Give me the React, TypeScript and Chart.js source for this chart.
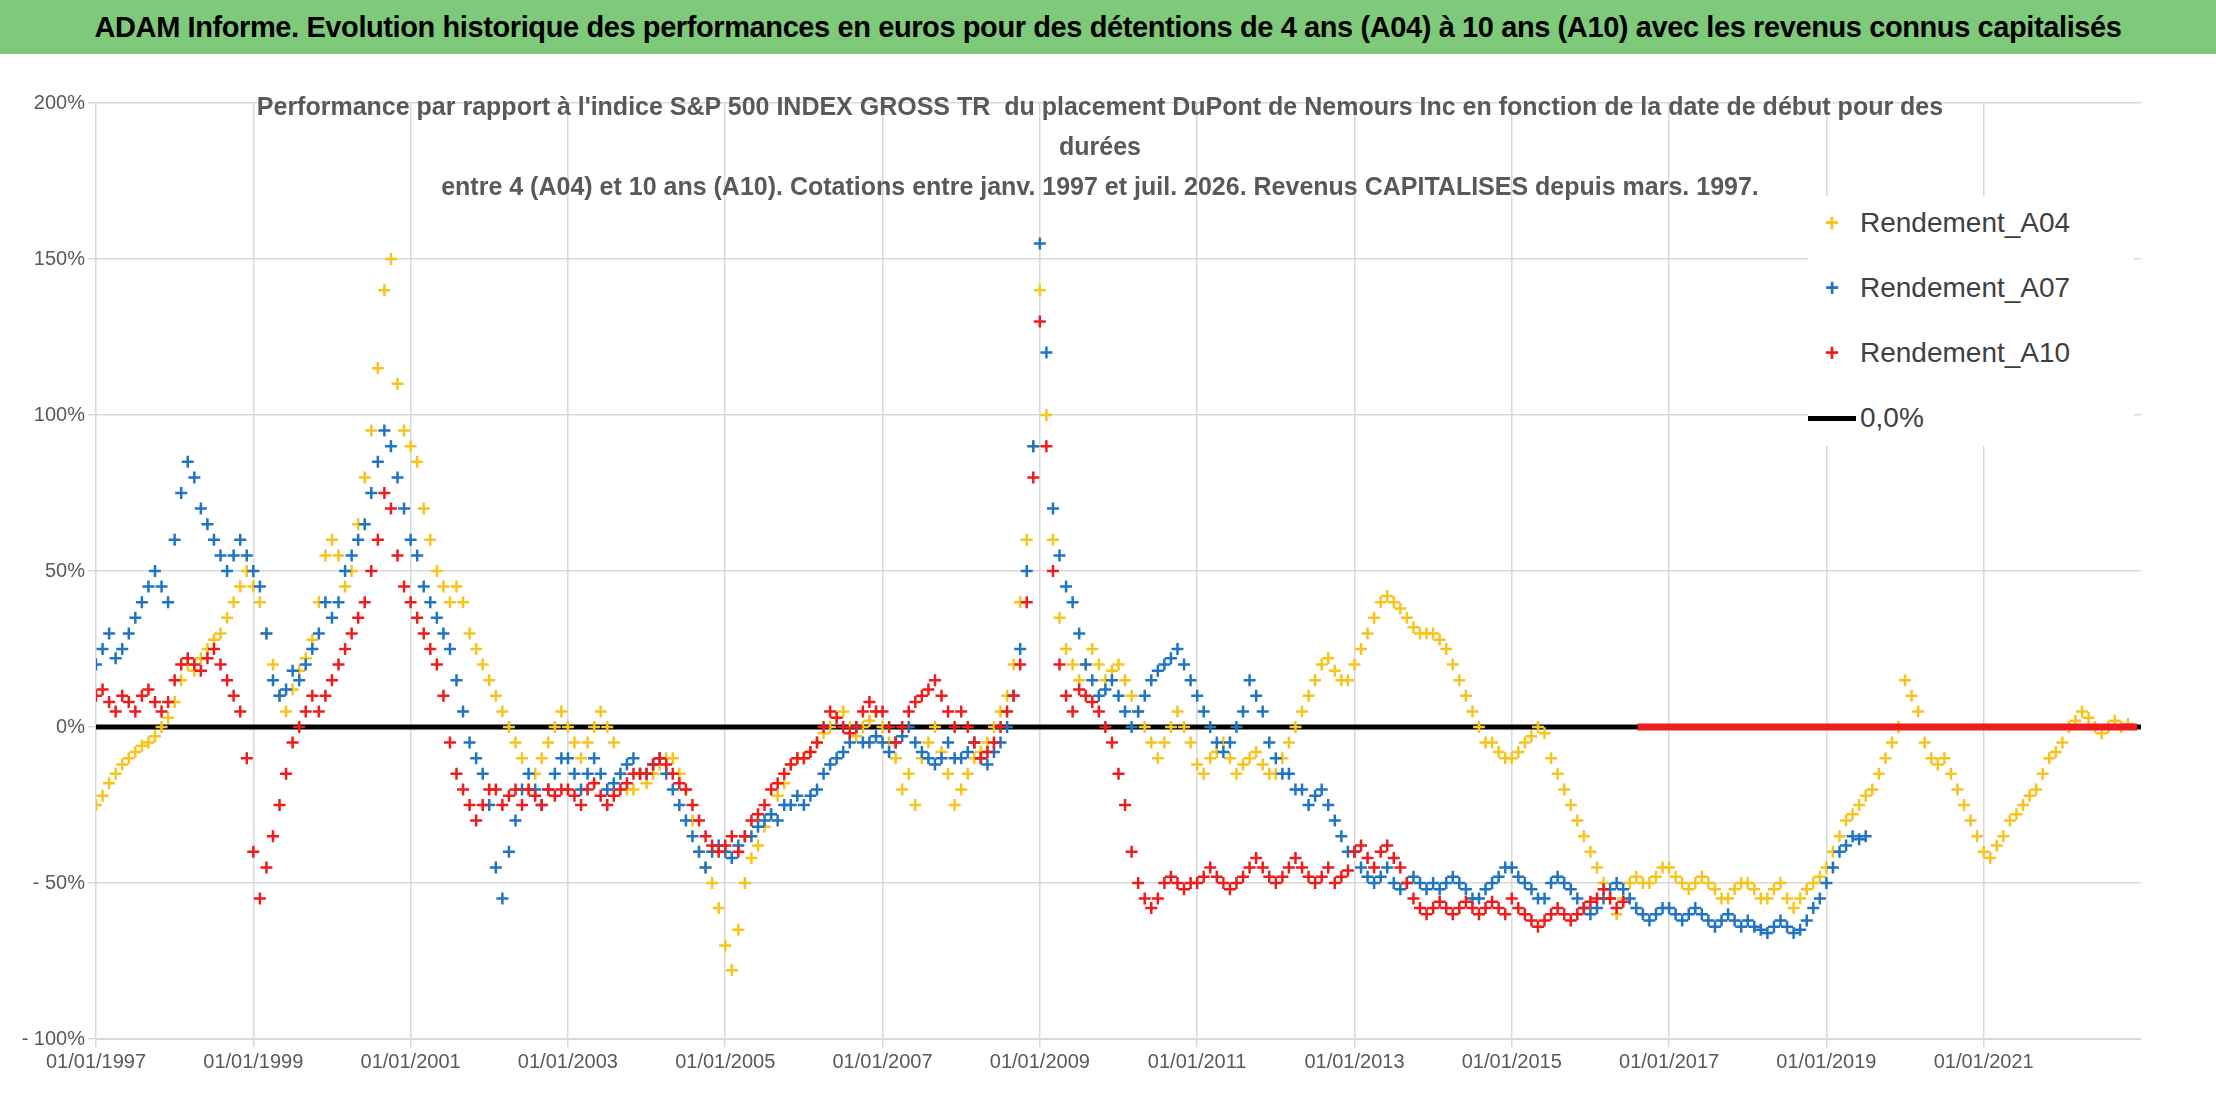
import React, { useEffect, useRef } from "react";
import { Chart, registerables } from "chart.js";
Chart.register(...registerables);

const START_YEAR = 1997;
const END_YEAR = 2023;
const Y_TICKS = [-100, -50, 0, 50, 100, 150, 200];

const A04 = [
  -25,-22,-18,-15,-12,-10,-8,-6,-5,-3,0,3,
  8,15,20,18,22,25,28,30,35,40,45,50,
  45,40,30,20,10,5,12,18,22,28,40,55,
  60,55,45,50,65,80,95,115,140,150,110,95,
  90,85,70,60,50,45,40,45,40,30,25,20,
  15,10,5,0,-5,-10,-20,-15,-10,-5,0,5,
  0,-5,-10,-5,0,5,0,-5,-15,-20,-20,-15,
  -18,-15,-12,-10,-10,-15,-20,-30,-40,-45,-50,-58,
  -70,-78,-65,-50,-42,-38,-32,-28,-22,-18,-12,-10,
  -10,-8,-5,-2,0,3,5,0,-3,0,2,5,
  0,-5,-10,-20,-15,-25,-10,-5,0,-8,-15,-25,
  -20,-15,-10,-8,-5,0,5,10,20,40,60,90,
  140,100,60,35,25,20,15,20,25,20,15,18,
  20,15,10,5,0,-5,-10,-5,0,5,0,-5,
  -12,-15,-10,-8,-5,-10,-15,-12,-10,-8,-12,-15,
  -15,-10,-5,0,5,10,15,20,22,18,15,15,
  20,25,30,35,40,42,40,38,35,32,30,30,
  30,28,25,20,15,10,5,0,-5,-5,-8,-10,
  -10,-8,-5,-3,0,-2,-10,-15,-20,-25,-30,-35,
  -40,-45,-50,-55,-60,-55,-50,-48,-50,-50,-48,-45,
  -45,-48,-50,-52,-50,-48,-50,-52,-55,-55,-52,-50,
  -50,-52,-55,-55,-52,-50,-55,-58,-55,-52,-50,-48,
  -45,-40,-35,-30,-28,-25,-22,-20,-15,-10,-5,0,
  15,10,5,-5,-10,-12,-10,-15,-20,-25,-30,-35,
  -40,-42,-38,-35,-30,-28,-25,-22,-20,-15,-10,-8,
  -5,0,2,5,3,0,-2,0,2,0,1,
];

const A07 = [
  20,25,30,22,25,30,35,40,45,50,45,40,
  60,75,85,80,70,65,60,55,50,55,60,55,
  50,45,30,15,10,12,18,15,20,25,30,40,
  35,40,50,55,60,65,75,85,95,90,80,70,
  60,55,45,40,35,30,25,15,5,-5,-10,-15,
  -25,-45,-55,-40,-30,-20,-15,-20,-25,-20,-15,-10,
  -10,-15,-20,-15,-10,-15,-20,-18,-15,-12,-10,-15,
  -15,-12,-10,-15,-20,-25,-30,-35,-40,-45,-40,-38,
  -40,-42,-38,-35,-35,-32,-30,-28,-30,-25,-25,-22,
  -25,-22,-20,-15,-12,-10,-8,-5,0,-5,-5,-3,
  -5,-8,-5,-3,0,-5,-8,-10,-12,-10,-5,-10,
  -10,-8,-5,-10,-12,-8,-5,0,10,25,50,90,
  155,120,70,55,45,40,30,20,15,10,12,15,
  10,5,0,5,10,15,18,20,22,25,20,15,
  10,5,0,-5,-8,-5,0,5,15,10,5,-5,
  -10,-15,-15,-20,-20,-25,-22,-20,-25,-30,-35,-40,
  -40,-45,-48,-50,-48,-45,-50,-52,-50,-48,-50,-52,
  -50,-52,-50,-48,-50,-52,-55,-55,-52,-50,-48,-45,
  -45,-48,-50,-52,-55,-55,-50,-48,-50,-52,-55,-58,
  -60,-58,-55,-52,-50,-52,-55,-58,-60,-62,-60,-58,
  -58,-60,-62,-60,-58,-60,-62,-64,-62,-60,-62,-64,
  -62,-64,-65,-66,-64,-62,-64,-66,-65,-62,-58,-55,
  -50,-45,-40,-38,-35,-36,-35,
];

const A10 = [
  10,12,8,5,10,8,5,10,12,8,5,8,
  15,20,22,20,18,22,25,20,15,10,5,-10,
  -40,-55,-45,-35,-25,-15,-5,0,5,10,5,10,
  15,20,25,30,35,40,50,60,75,70,55,45,
  40,35,30,25,20,10,-5,-15,-20,-25,-30,-25,
  -20,-20,-25,-22,-20,-25,-20,-22,-25,-20,-22,-20,
  -20,-22,-25,-20,-18,-22,-25,-22,-20,-18,-15,-15,
  -15,-12,-10,-12,-15,-18,-20,-25,-30,-35,-38,-40,
  -38,-35,-40,-35,-30,-28,-25,-20,-18,-15,-12,-10,
  -10,-8,-5,0,5,3,0,-2,0,5,8,5,
  5,0,-5,0,5,8,10,12,15,10,5,0,
  5,0,-5,-10,-8,-5,0,5,10,20,40,80,
  130,90,50,20,10,5,12,10,8,5,0,-5,
  -15,-25,-40,-50,-55,-58,-55,-50,-48,-50,-52,-50,
  -50,-48,-45,-48,-50,-52,-50,-48,-45,-42,-45,-48,
  -50,-48,-45,-42,-45,-48,-50,-48,-45,-50,-48,-46,
  -40,-38,-42,-45,-40,-38,-42,-45,-50,-55,-58,-60,
  -58,-56,-58,-60,-58,-56,-58,-60,-58,-56,-58,-60,
  -55,-58,-60,-62,-64,-62,-60,-58,-60,-62,-60,-58,
  -56,-55,-52,-55,-58,-56,
];

const A10_ZERO_START = 2016.6;
const A10_ZERO_END = 2022.95;

const toPts = (arr: number[]) => arr.map((v, i) => ({ x: START_YEAR + i / 12, y: v }));

const LEGEND = [
  { label: "Rendement_A04", color: "#f7c41e", type: "cross" },
  { label: "Rendement_A07", color: "#1f74c4", type: "cross" },
  { label: "Rendement_A10", color: "#ee1c1c", type: "cross" },
  { label: "0,0%", color: "#000000", type: "line" },
];

export default function App() {
  const ref = useRef<HTMLCanvasElement>(null);
  useEffect(() => {
    document.body.style.margin = "0";
    const cross = (c: string, order: number, data: any) => ({
      type: "scatter" as const, data, order, showLine: false,
      pointStyle: "cross", pointRadius: 6, pointBorderWidth: 2.5,
      borderColor: c, backgroundColor: c,
    });
    const chart = new Chart(ref.current!, {
      type: "scatter",
      data: {
        datasets: [
          { type: "line", data: [{ x: START_YEAR, y: 0 }, { x: END_YEAR, y: 0 }], borderColor: "#000", borderWidth: 5, pointRadius: 0, order: 5 } as any,
          cross("#f7c41e", 4, toPts(A04)),
          cross("#1f74c4", 3, toPts(A07)),
          cross("#ee1c1c", 2, toPts(A10)),
          { type: "line", data: [{ x: A10_ZERO_START, y: 0 }, { x: A10_ZERO_END, y: 0 }], borderColor: "#ee1c1c", borderWidth: 7, pointRadius: 0, order: 1 } as any,
        ],
      },
      options: {
        animation: false, responsive: false,
        layout: { padding: { top: 49, right: 75, left: 0, bottom: 0 } },
        plugins: { legend: { display: false }, tooltip: { enabled: false } },
        scales: {
          x: {
            type: "linear", min: START_YEAR, max: END_YEAR,
            afterFit: (s: any) => { s.height = 63; },
            afterBuildTicks: (s: any) => {
              const t = [];
              for (let y = START_YEAR; y <= 2021; y += 2) t.push({ value: y });
              s.ticks = t;
            },
            ticks: { color: "#595959", font: { family: "Liberation Sans", size: 20 }, maxRotation: 0, autoSkip: false, callback: (v: any) => "01/01/" + v },
            grid: { color: "#d9d9d9", lineWidth: 1.5 },
            border: { color: "#d9d9d9" },
          },
          y: {
            min: -100, max: 200,
            afterFit: (s: any) => { s.width = 96; },
            afterBuildTicks: (s: any) => { s.ticks = Y_TICKS.map((v) => ({ value: v })); },
            ticks: { color: "#595959", font: { family: "Liberation Sans", size: 20 }, callback: (v: any) => (v < 0 ? "- " + -v : v) + "%" },
            grid: { color: "#d9d9d9", lineWidth: 1.5 },
            border: { display: false },
          },
        },
      },
    });
    return () => chart.destroy();
  }, []);
  return (
    <div style={{ width: 2216, height: 1102, position: "relative", background: "#fff", fontFamily: "Liberation Sans" }}>
      <div style={{ height: 54, background: "#7ec97a", display: "flex", alignItems: "center", justifyContent: "center", fontWeight: "bold", fontSize: 29, color: "#000", whiteSpace: "nowrap", letterSpacing: -0.4 }}>
        ADAM Informe. Evolution historique des performances en euros pour des détentions de 4 ans (A04) à 10 ans (A10) avec les revenus connus capitalisés
      </div>
      <canvas ref={ref} width={2216} height={1048} style={{ display: "block" }} />
      <div style={{ position: "absolute", left: 200, width: 1800, top: 86, textAlign: "center", color: "#595959", fontWeight: "bold", fontSize: 25, lineHeight: "40px" }}>
        <div>Performance par rapport à l'indice S&amp;P 500 INDEX GROSS TR&nbsp; du placement DuPont de Nemours Inc en fonction de la date de début pour des</div>
        <div>durées</div>
        <div>entre 4 (A04) et 10 ans (A10). Cotations entre janv. 1997 et juil. 2026. Revenus CAPITALISES depuis mars. 1997.</div>
      </div>
      <div style={{ position: "absolute", left: 1808, top: 196, width: 326, height: 250, background: "#fff" }}>
        {LEGEND.map((l, i) => (
          <div key={i} style={{ position: "absolute", top: 12 + i * 65, left: 0, display: "flex", alignItems: "center", height: 30, fontSize: 28, color: "#404040" }}>
            {l.type === "cross"
              ? <span style={{ width: 48, textAlign: "center", color: l.color, fontSize: 24, fontWeight: "bold" }}>+</span>
              : <span style={{ width: 48, display: "inline-block", height: 5, background: "#000" }} />}
            <span style={{ marginLeft: 4 }}>{l.label}</span>
          </div>
        ))}
      </div>
    </div>
  );
}
